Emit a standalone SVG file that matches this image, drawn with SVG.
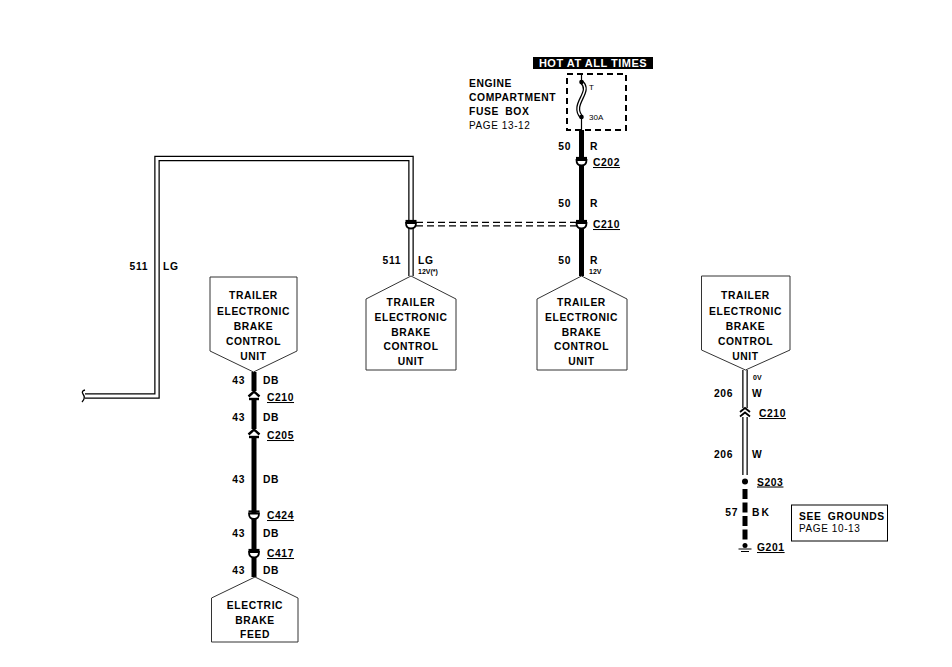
<svg xmlns="http://www.w3.org/2000/svg" width="952" height="667" viewBox="0 0 952 667">
<style>
.b{font-family:"Liberation Sans",Arial,sans-serif;font-weight:bold;font-size:10.3px;letter-spacing:0.6px;fill:#000}
.r{font-family:"Liberation Sans",Arial,sans-serif;font-size:10px;letter-spacing:0.6px;fill:#000}
.s{font-family:"Liberation Sans",Arial,sans-serif;font-weight:bold;font-size:7px;fill:#000}
.m{text-anchor:middle}
.e{text-anchor:end}
.u{text-decoration:underline}
.node{fill:#fff;stroke:#333;stroke-width:1}
.thick{fill:none;stroke:#000;stroke-width:5}
.dbo{fill:none;stroke:#000;stroke-width:5.5}
.dbi{fill:none;stroke:#fff;stroke-width:3}
.cup{fill:#fff;stroke:#000;stroke-width:1.8}
</style>
<defs>
<g id="cupc">
<path d="M-5 -1 Q-5 4.5 0 4.5 Q5 4.5 5 -1 Z" class="cup"/>
<path d="M-5.5 -3 H5.5" stroke="#000" stroke-width="2.2"/>
</g>
<g id="hatc">
<rect x="-3" y="-5" width="6" height="8" fill="#fff"/>
<path d="M-5.5 0.5 L0 -4.5 L5.5 0.5" fill="none" stroke="#000" stroke-width="2.4"/>
<path d="M-5 3 H5" stroke="#000" stroke-width="2.4"/>
</g>
<g id="dblc">
<rect x="-3" y="-5" width="6" height="9" fill="#fff"/>
<path d="M-5 -1 L0 -5 L5 -1 M-5 3.5 L0 -0.5 L5 3.5" fill="none" stroke="#000" stroke-width="1.8"/>
</g>
</defs>

<g id="connectors">
<path d="M85 396 H157 V158.5 H411 V276" class="dbo"/>
<path d="M84 396 H157 V158.5 H411 V277" class="dbi"/>
<path d="M85 390 Q81 391 83 394 Q86 398 82 402" fill="none" stroke="#000" stroke-width="1.3"/>
<path d="M416 222.3 H577 M416 225.8 H577" stroke="#000" stroke-width="1.2" stroke-dasharray="7 4"/>
<path d="M581.5 74 V82 M581.5 117 V130" stroke="#000" stroke-width="1.2"/>
<path d="M581.5 82 C593 92 570 104 581.5 117" fill="none" stroke="#000" stroke-width="4"/>
<path d="M581.5 82 C593 92 570 104 581.5 117" fill="none" stroke="#fff" stroke-width="1.5"/>
<circle cx="581.5" cy="82" r="2.3" fill="#000"/>
<circle cx="581.5" cy="117" r="2.3" fill="#000"/>
<path d="M581.5 130 V276" class="thick"/>
<path d="M254 372 V577" class="thick"/>
<path d="M745 370 V475" class="dbo"/>
<path d="M745 369 V475" class="dbi"/>
<circle cx="745" cy="481.5" r="3" fill="#000"/>
<path d="M745 489 V543" class="thick" stroke-dasharray="10 3.5"/>
<circle cx="745" cy="545.5" r="2.5" fill="#000"/>
<path d="M738.5 549 H751.5 M741 551.5 H749" stroke="#000" stroke-width="1.2"/>
<use href="#cupc" x="581.5" y="161"/>
<use href="#cupc" x="581.5" y="224"/>
<use href="#cupc" x="411" y="224"/>
<use href="#hatc" x="254" y="396"/>
<use href="#hatc" x="254" y="434"/>
<use href="#cupc" x="254" y="514.5"/>
<use href="#cupc" x="254" y="553"/>
<use href="#dblc" x="745" y="413"/>
</g>

<g id="fusebox">
<rect x="533" y="57" width="120" height="12" fill="#000"/>
<text x="593" y="67" class="b m" style="fill:#fff;font-size:11px;letter-spacing:0.5px">HOT AT ALL TIMES</text>
<rect x="567" y="74" width="59" height="56" fill="none" stroke="#000" stroke-width="2" stroke-dasharray="6 4"/>
<text x="589" y="90" class="s" style="font-weight:normal;font-size:8px">T</text>
<text x="589" y="120" class="s" style="font-weight:normal;font-size:8px">30A</text>
<text x="469" y="86.8" class="b">ENGINE</text>
<text x="469" y="100.5" class="b">COMPARTMENT</text>
<text x="469" y="115" class="b" style="word-spacing:3px">FUSE BOX</text>
<text x="469" y="128.5" class="r">PAGE 13-12</text>
</g>

<g id="labels">
<text x="148" y="270" class="b e">511</text>
<text x="163" y="270" class="b">LG</text>
<text x="401" y="264" class="b e">511</text>
<text x="418" y="264" class="b">LG</text>
<text x="418" y="273.5" class="s">12V(*)</text>
<text x="571" y="150" class="b e">50</text>
<text x="590" y="150" class="b">R</text>
<text x="593" y="166" class="b u">C202</text>
<text x="571" y="207" class="b e">50</text>
<text x="590" y="207" class="b">R</text>
<text x="593" y="228" class="b u">C210</text>
<text x="571" y="264" class="b e">50</text>
<text x="590" y="264" class="b">R</text>
<text x="589" y="273.5" class="s">12V</text>
<text x="245" y="384" class="b e">43</text>
<text x="263" y="384" class="b">DB</text>
<text x="267" y="401" class="b u">C210</text>
<text x="245" y="421" class="b e">43</text>
<text x="263" y="421" class="b">DB</text>
<text x="267" y="439" class="b u">C205</text>
<text x="245" y="483" class="b e">43</text>
<text x="263" y="483" class="b">DB</text>
<text x="267" y="519" class="b u">C424</text>
<text x="245" y="537" class="b e">43</text>
<text x="263" y="537" class="b">DB</text>
<text x="267" y="557" class="b u">C417</text>
<text x="245" y="574" class="b e">43</text>
<text x="263" y="574" class="b">DB</text>
<text x="753" y="380" class="s">0V</text>
<text x="733" y="397" class="b e">206</text>
<text x="752" y="397" class="b">W</text>
<text x="759" y="417" class="b u">C210</text>
<text x="733" y="458" class="b e">206</text>
<text x="752" y="458" class="b">W</text>
<text x="757" y="485.5" class="b u">S203</text>
<text x="738" y="515.5" class="b e">57</text>
<text x="752" y="515.5" class="b" style="letter-spacing:2px">BK</text>
<text x="757" y="551" class="b u">G201</text>
</g>

<g id="node-tebcu-1">
<polygon points="210,277 297,277 297,351 253.5,372 210,351" class="node"/>
<text x="253.5" y="299" class="b m">TRAILER</text>
<text x="253.5" y="314.5" class="b m">ELECTRONIC</text>
<text x="253.5" y="329.5" class="b m">BRAKE</text>
<text x="253.5" y="345" class="b m">CONTROL</text>
<text x="253.5" y="360" class="b m">UNIT</text>
</g>
<g id="node-tebcu-2">
<polygon points="411,276 456,299 456,370 366,370 366,299" class="node"/>
<text x="411" y="305.5" class="b m">TRAILER</text>
<text x="411" y="320.5" class="b m">ELECTRONIC</text>
<text x="411" y="335.5" class="b m">BRAKE</text>
<text x="411" y="350" class="b m">CONTROL</text>
<text x="411" y="364.5" class="b m">UNIT</text>
</g>
<g id="node-tebcu-3">
<polygon points="581.5,276 627,299 627,370 537,370 537,299" class="node"/>
<text x="581.5" y="305.5" class="b m">TRAILER</text>
<text x="581.5" y="320.5" class="b m">ELECTRONIC</text>
<text x="581.5" y="335.5" class="b m">BRAKE</text>
<text x="581.5" y="350" class="b m">CONTROL</text>
<text x="581.5" y="364.5" class="b m">UNIT</text>
</g>
<g id="node-tebcu-4">
<polygon points="701.5,276 790,276 790,350 745.5,370 701.5,350" class="node"/>
<text x="745.5" y="299" class="b m">TRAILER</text>
<text x="745.5" y="314.5" class="b m">ELECTRONIC</text>
<text x="745.5" y="329.5" class="b m">BRAKE</text>
<text x="745.5" y="345" class="b m">CONTROL</text>
<text x="745.5" y="360" class="b m">UNIT</text>
</g>
<g id="node-brake-feed">
<polygon points="255,577 298,598 298,642 211.5,642 211.5,598" class="node"/>
<text x="255" y="608.5" class="b m">ELECTRIC</text>
<text x="255" y="623.5" class="b m">BRAKE</text>
<text x="255" y="637.5" class="b m">FEED</text>
</g>
<g id="note-grounds">
<rect x="791.5" y="505" width="96" height="36" fill="#fff" stroke="#000" stroke-width="1"/>
<text x="799" y="520" class="b" style="word-spacing:3px">SEE GROUNDS</text>
<text x="799" y="532" class="r">PAGE 10-13</text>
</g>
</svg>
